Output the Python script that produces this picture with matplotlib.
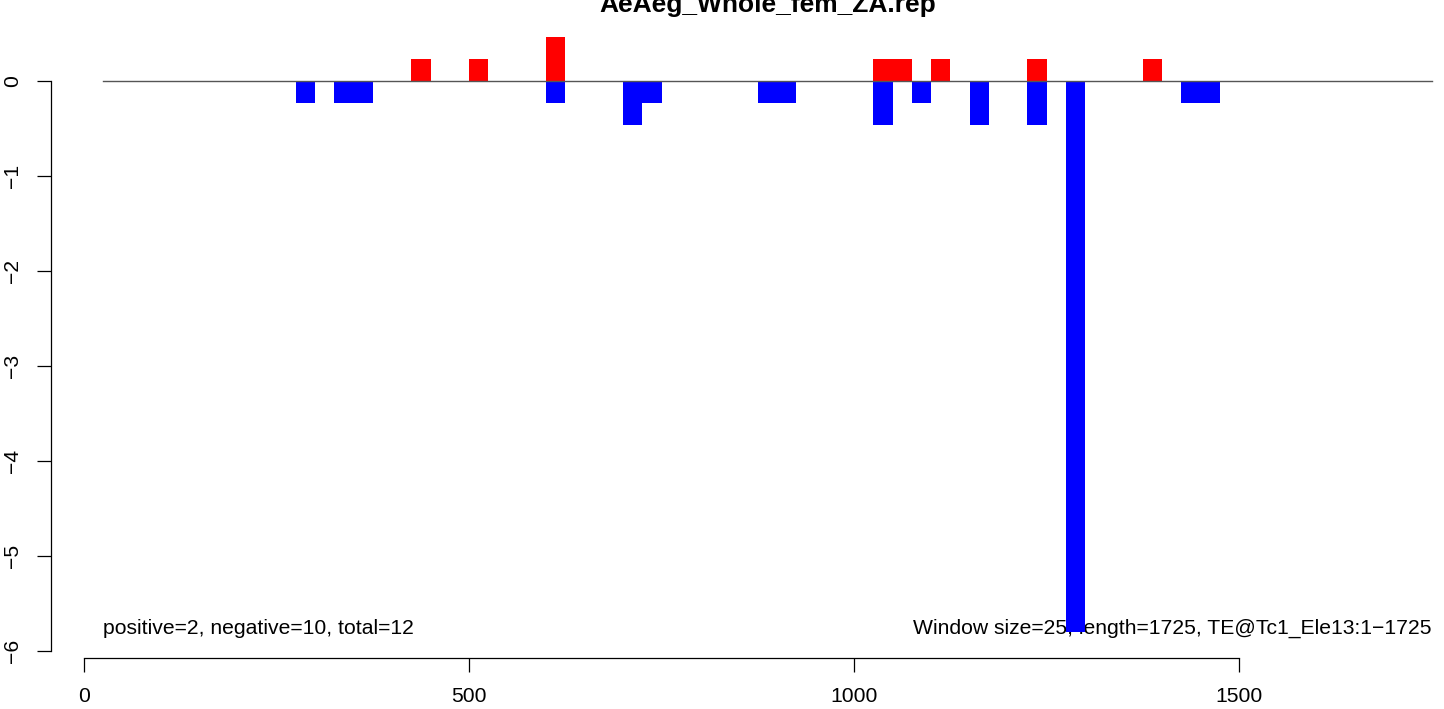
import matplotlib
matplotlib.use("Agg")
import matplotlib.pyplot as plt

plt.rcParams['font.family'] = ['Liberation Sans', 'DejaVu Sans']

# window start positions and scores (window size 25)
pos_x = [425, 500, 600, 1025, 1050, 1100, 1225, 1375]
pos_y = [0.23, 0.23, 0.46, 0.23, 0.23, 0.23, 0.23, 0.23]
neg_x = [275, 325, 350, 600, 700, 725, 875, 900, 1025, 1075, 1150, 1225, 1275, 1425, 1450]
neg_y = [-0.23, -0.23, -0.23, -0.23, -0.46, -0.23, -0.23, -0.23, -0.46, -0.23,
         -0.46, -0.46, -5.8, -0.23, -0.23]
win = 25
seq_len = 1725
xticks = [0, 500, 1000, 1500]
yticks = [0, -1, -2, -3, -4, -5, -6]
title = "AeAeg_Whole_fem_ZA.rep"
left_note = "positive=2, negative=10, total=12"
right_note = "Window size=25, length=1725, TE@Tc1_Ele13:1\u22121725"

W, H = 1444, 709
fig = plt.figure(figsize=(W / 100, H / 100), dpi=100)
ax = fig.add_axes((51 / W, (H - 658) / H, (W - 51) / W, 658 / H))
ax.set_xlim(-42.9, 1766.2)
ax.set_ylim(-6.074, 0.853)

ax.text(win, -5.76, left_note, ha='left', va='center', fontsize=15.2, zorder=1)
ax.text(seq_len + win, -5.76, right_note, ha='right', va='center', fontsize=15.2, zorder=1)

ax.bar(pos_x, pos_y, width=win, align='edge', color='#FF0000', linewidth=0, zorder=2)
ax.bar(neg_x, neg_y, width=win, align='edge', color='#0000FF', linewidth=0, zorder=2)
ax.plot([win, seq_len + win], [0, 0], color='#555555', lw=1, zorder=3)

for s in ['top', 'right']:
    ax.spines[s].set_visible(False)
ax.spines['left'].set_bounds(-6, 0)
ax.spines['bottom'].set_bounds(0, 1500)
ax.spines['left'].set_linewidth(0.9)
ax.spines['bottom'].set_linewidth(0.9)
ax.set_xticks(xticks)
ax.set_yticks(yticks)
ax.set_yticklabels([str(v).replace('-', '\u2212') for v in yticks])
ax.tick_params(direction='out', length=10, width=0.9, labelsize=15.2)
ax.tick_params(axis='x', pad=11)
ax.tick_params(axis='y', pad=11, labelrotation=90)
for lab in ax.get_yticklabels():
    lab.set_verticalalignment('center')

fig.text(768 / W, 1 - 12 / H, title, ha='center', va='baseline',
         fontsize=19, fontweight='bold')

fig.savefig('out.png', dpi=100)
